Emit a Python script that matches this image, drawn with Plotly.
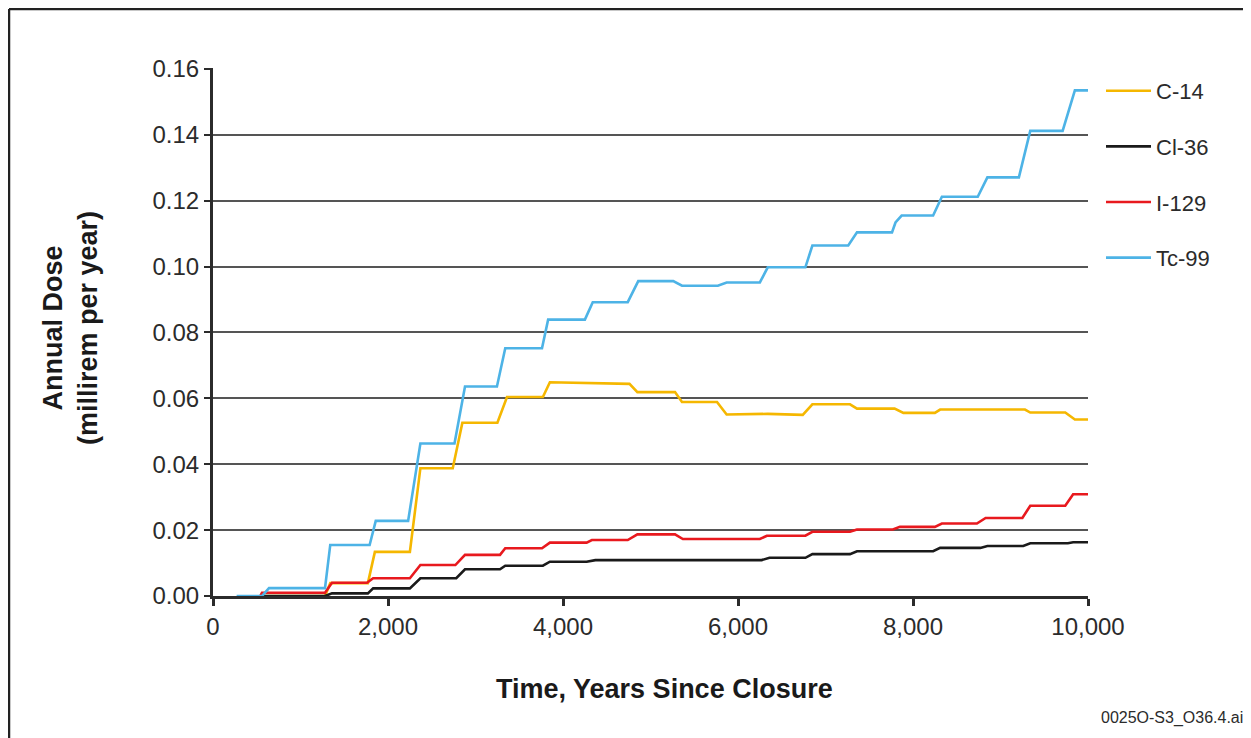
import plotly.graph_objects as go

# Time (years since closure) and annual dose (millirem per year)
tc99_t = [270, 560, 640, 1280, 1340, 1790, 1860, 2230, 2370, 2760, 2880, 3245, 3340, 3760, 3830,
          4250, 4340, 4740, 4860, 5260, 5360, 5770, 5870, 6250, 6340, 6770, 6850, 7260, 7360,
          7760, 7800, 7870, 8230, 8330, 8740, 8850, 9210, 9340, 9710, 9850, 10000]
tc99_v = [0.0, 0.0, 0.0024, 0.0024, 0.0155, 0.0155, 0.0228, 0.0228, 0.0463, 0.0463, 0.0636, 0.0636,
          0.0752, 0.0752, 0.0839, 0.0839, 0.0892, 0.0892, 0.0956, 0.0956, 0.0942, 0.0942, 0.0952,
          0.0952, 0.0998, 0.0998, 0.1064, 0.1064, 0.1104, 0.1104, 0.1134, 0.1155, 0.1155, 0.1212,
          0.1212, 0.1271, 0.1271, 0.1412, 0.1412, 0.1535, 0.1535]

c14_t = [540, 1280, 1340, 1770, 1850, 2250, 2370, 2740, 2850, 3250, 3360, 3770, 3850, 4300, 4760,
         4850, 5280, 5360, 5760, 5870, 6300, 6340, 6740, 6850, 7280, 7360, 7790, 7890, 8250, 8310,
         9280, 9340, 9740, 9850, 10000]
c14_v = [0.0, 0.0, 0.0039, 0.0039, 0.0134, 0.0134, 0.0388, 0.0388, 0.0526, 0.0526, 0.0604, 0.0604,
         0.0649, 0.0646, 0.0644, 0.0619, 0.0619, 0.0589, 0.0589, 0.0551, 0.0551, 0.0553, 0.0550,
         0.0582, 0.0582, 0.0569, 0.0569, 0.0556, 0.0556, 0.0566, 0.0566, 0.0557, 0.0557, 0.0536,
         0.0536]

i129_t = [540, 560, 1280, 1360, 1760, 1830, 2250, 2370, 2770, 2880, 3280, 3340, 3760, 3850, 4270,
          4330, 4740, 4850, 5280, 5370, 6250, 6330, 6770, 6850, 7280, 7360, 7770, 7850, 8250, 8330,
          8730, 8830, 9250, 9340, 9740, 9830, 10000]
i129_v = [0.0, 0.001, 0.001, 0.004, 0.004, 0.0054, 0.0054, 0.0094, 0.0094, 0.0125, 0.0125, 0.0145,
          0.0145, 0.0162, 0.0162, 0.0170, 0.0170, 0.0187, 0.0187, 0.0173, 0.0173, 0.0183, 0.0183,
          0.0195, 0.0195, 0.0202, 0.0202, 0.0210, 0.0210, 0.0220, 0.0220, 0.0237, 0.0237, 0.0274,
          0.0274, 0.0309, 0.0309]

cl36_t = [540, 1280, 1360, 1770, 1830, 2250, 2370, 2780, 2880, 3280, 3340, 3770, 3850, 4270, 4370,
          6270, 6360, 6770, 6850, 7280, 7360, 8230, 8310, 8770, 8850, 9260, 9340, 9770, 9830, 10000]
cl36_v = [0.0, 0.0, 0.0008, 0.0008, 0.0023, 0.0023, 0.0054, 0.0054, 0.0081, 0.0081, 0.0092, 0.0092,
          0.0104, 0.0104, 0.0109, 0.0109, 0.0116, 0.0116, 0.0127, 0.0127, 0.0136, 0.0136, 0.0146,
          0.0146, 0.0152, 0.0152, 0.0160, 0.0160, 0.0163, 0.0163]

series = [
    ("C-14", c14_t, c14_v, "#F5B700"),
    ("Cl-36", cl36_t, cl36_v, "#1A1A1A"),
    ("I-129", i129_t, i129_v, "#E8191E"),
    ("Tc-99", tc99_t, tc99_v, "#4DB3E6"),
]

x_ticks = [0, 2000, 4000, 6000, 8000, 10000]
y_ticks = [0.00, 0.02, 0.04, 0.06, 0.08, 0.10, 0.12, 0.14, 0.16]

# page body has an 8px margin, so the figure is drawn 8px in from the window corner
OFF = 8
W, H = 1243, 730
L, T = 213 - OFF, 68 - OFF
R, B = W - (1088 - OFF), H - (596 - OFF)
PW, PH = W - L - R, H - T - B


def px(x):  # x in window pixels -> paper coordinate
    return (x - OFF - L) / PW


def py(y):  # y in window pixels -> paper coordinate
    return (H - B - (y - OFF)) / PH


fig = go.Figure()
for name, t, v, col in series:
    fig.add_trace(go.Scatter(x=t, y=v, mode="lines", name=name, legendgroup=name,
                             line=dict(color=col, width=2.6)))

FONT = "Liberation Sans, Arial, sans-serif"

fig.update_layout(
    width=W, height=H, autosize=False,
    margin=dict(l=L, r=R, t=T, b=B, pad=0),
    paper_bgcolor="white", plot_bgcolor="white",
    font=dict(family=FONT, color="#2b2b2b"),
    showlegend=True,
    legend=dict(x=px(1101), xanchor="left", y=py(70), yanchor="top",
                font=dict(size=22, color="#2b2b2b"), tracegroupgap=24,
                itemwidth=45,
                bgcolor="rgba(0,0,0,0)", borderwidth=0),
    xaxis=dict(range=[0, 10000], tickvals=x_ticks, tickformat=",d",
               showgrid=False, zeroline=False, showline=True, linecolor="#2b2b2b",
               linewidth=3, ticks="outside", ticklen=7, tickwidth=3, tickcolor="#2b2b2b",
               tickfont=dict(size=24, color="#2b2b2b")),
    yaxis=dict(range=[0, 0.1603], tickvals=y_ticks, tickformat=".2f",
               showgrid=True, gridcolor="#555555", gridwidth=2, zeroline=False,
               showline=True, linecolor="#2b2b2b", linewidth=3, ticks="outside",
               ticklen=6, tickwidth=2, tickcolor="#2b2b2b",
               tickfont=dict(size=24, color="#2b2b2b")),
)

fig.add_annotation(text="<b>Annual Dose<br>(millirem per year)</b>", textangle=-90,
                   x=px(70), y=py(328), xref="paper", yref="paper", showarrow=False,
                   font=dict(size=27, color="#1a1a1a"), xanchor="center", yanchor="middle")
fig.add_annotation(text="<b>Time, Years Since Closure</b>",
                   x=px(664), y=py(689), xref="paper", yref="paper", showarrow=False,
                   font=dict(size=27, color="#1a1a1a"), xanchor="center", yanchor="middle")
fig.add_annotation(text="0025O-S3_O36.4.ai",
                   x=px(1245), y=py(718), xref="paper", yref="paper", showarrow=False,
                   font=dict(size=16, color="#2b2b2b"), xanchor="right", yanchor="middle")

frame = dict(color="#222222", width=2.5)
fig.add_shape(type="line", xref="paper", yref="paper", x0=px(9), x1=px(9), y0=py(9), y1=py(745), line=frame)
fig.add_shape(type="line", xref="paper", yref="paper", x0=px(9), x1=px(1248), y0=py(9), y1=py(9), line=frame)
fig.add_shape(type="line", xref="paper", yref="paper", x0=px(1248), x1=px(1248), y0=py(9), y1=py(703), line=frame)

fig.write_html("out.html")
